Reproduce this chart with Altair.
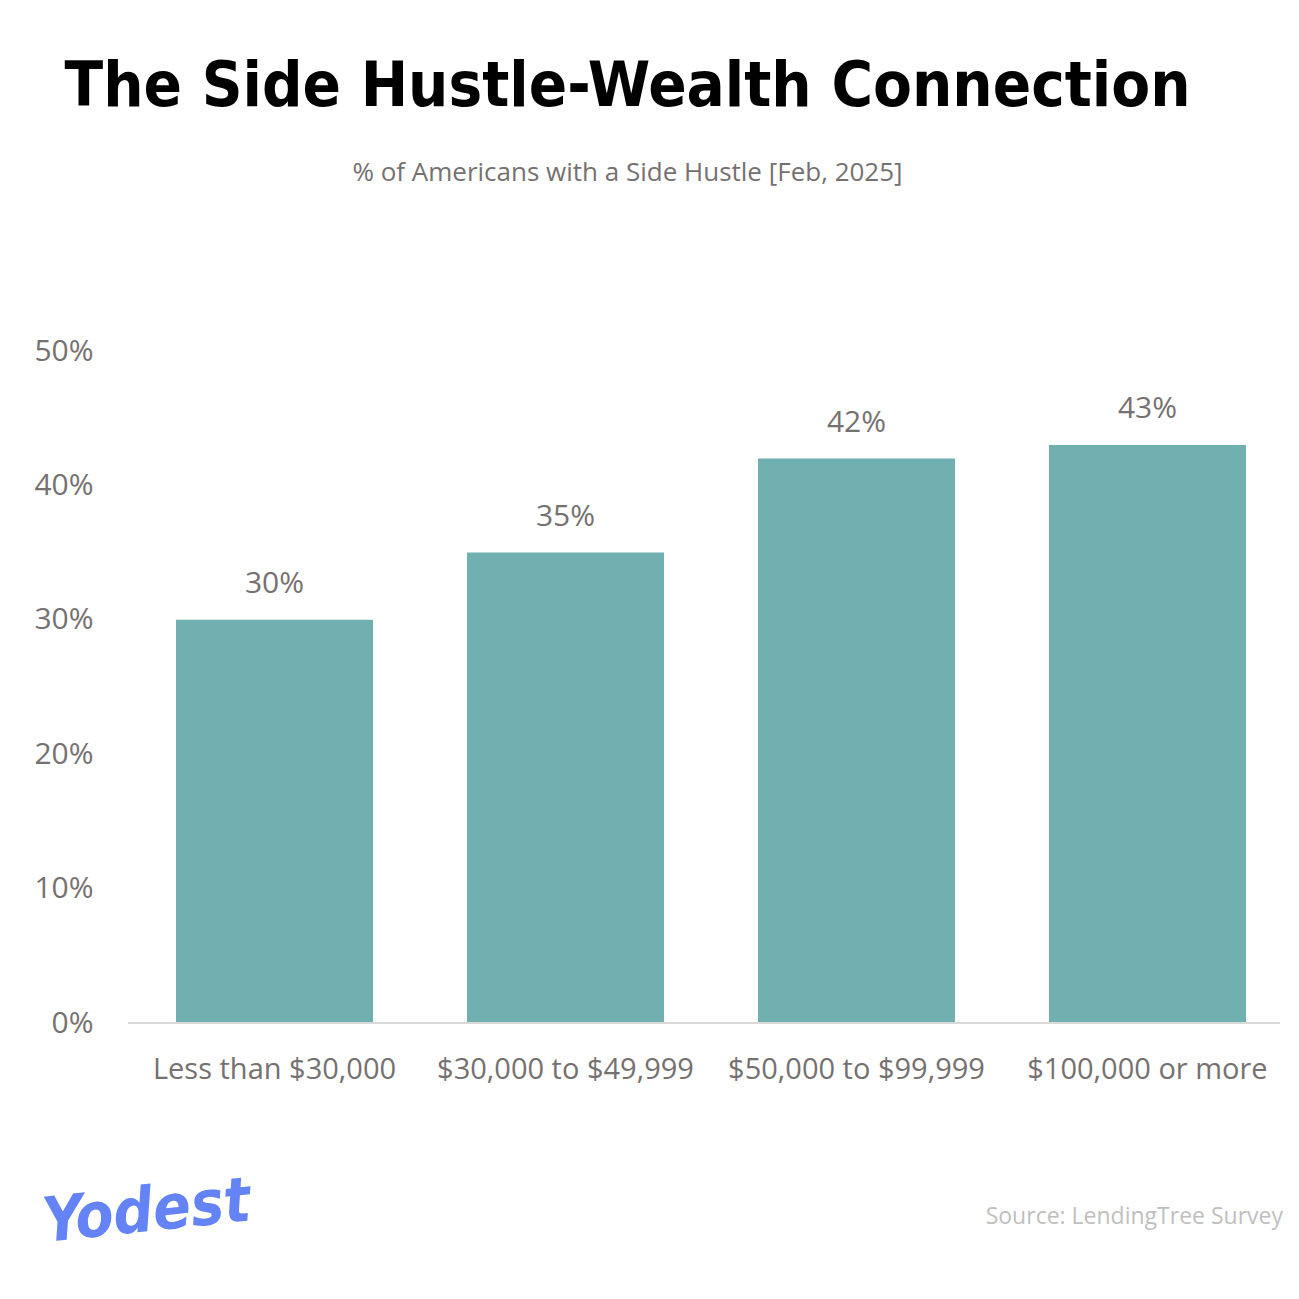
import altair as alt
import pandas as pd

categories = ["Less than $30,000", "$30,000 to $49,999", "$50,000 to $99,999", "$100,000 or more"]
values = [30, 35, 42, 43]
y_ticks = [0, 10, 20, 30, 40, 50]

title_text = "The Side Hustle-Wealth Connection"
subtitle_text = "% of Americans with a Side Hustle [Feb, 2025]"
source_text = "Source: LendingTree Survey"
logo_text = "Yodest"

df = pd.DataFrame({"cat": categories, "val": values, "label": [f"{v}%" for v in values]})

GREY = "#767171"
BODY_FONT = "Open Sans"
COND_FONT = "'DejaVu Sans Condensed', 'DejaVu Sans', sans-serif"

x = alt.X("cat:N", sort=categories, title=None,
          scale=alt.Scale(paddingInner=0.323, paddingOuter=0.1392, align=0.58),
          axis=alt.Axis(labelAngle=0, labelFont=BODY_FONT, labelFontSize=29, labelColor=GREY,
                        labelPadding=32, labelLimit=0, ticks=False, domain=False))
y = alt.Y("val:Q", title=None,
          scale=alt.Scale(domain=[0, 50], nice=False),
          axis=alt.Axis(values=y_ticks, labelExpr="datum.value + '%'", labelFont=BODY_FONT,
                        labelFontSize=30, labelColor=GREY, labelPadding=36, ticks=False,
                        domain=False, grid=False))

bars = alt.Chart(df).mark_bar(color="#70B0B0").encode(x=x, y=y)

labels = alt.Chart(df).mark_text(font=BODY_FONT, fontSize=30, color=GREY, baseline="alphabetic", dy=-27).encode(
    x=alt.X("cat:N", sort=categories), y="val:Q", text="label:N")

base_rule = alt.Chart(df).mark_rule(color="#D9D9D9", strokeWidth=2).encode(
    x=alt.value(-1), x2=alt.value(1151), y=alt.value(672))

source = alt.Chart(pd.DataFrame({"t": [source_text]})).mark_text(
    font=BODY_FONT, fontSize=23, color="#BFBFBF", align="right", baseline="middle").encode(
    x=alt.value(1154), y=alt.value(866), text="t:N")

logo = alt.Chart(pd.DataFrame({"t": [logo_text]})).mark_text(
    font=COND_FONT, fontSize=62, fontStyle="italic", fontWeight="bold",
    color="#6383F7", align="left", baseline="middle", angle=354).encode(
    x=alt.value(-86), y=alt.value(872), text="t:N")

chart = alt.layer(bars, labels, base_rule, source, logo).properties(
    width=1151, height=672,
    padding={"left": 25, "top": 48, "right": 5, "bottom": 5},
    background="white",
    title=alt.TitleParams(
        text=title_text, subtitle=subtitle_text,
        font=COND_FONT, fontSize=63, fontWeight="bold", color="#000000",
        subtitleFont=BODY_FONT, subtitleFontSize=26, subtitleColor=GREY, subtitlePadding=41,
        anchor="middle", dx=-77, offset=150,
    ),
).configure_view(stroke=None, strokeWidth=0)

chart.save("out.html", embed_options={"renderer": "svg", "actions": False})
